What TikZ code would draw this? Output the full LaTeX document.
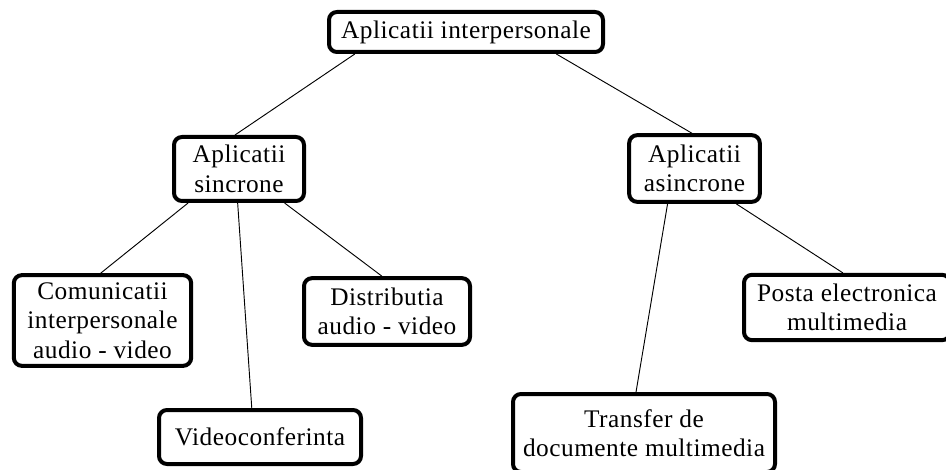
\documentclass[tikz,border=0pt]{standalone}
\usepackage{fontspec}
\setmainfont[LetterSpace=2]{Liberation Serif}
\usetikzlibrary{calc}
\begin{document}
\begin{tikzpicture}[x=0.75pt,y=-0.75pt,
  box/.style={draw=black,line width=3pt,rounded corners=6pt,fill=white,
    align=center,inner sep=0pt,
    font=\fontsize{19pt}{22pt}\selectfont},
  link/.style={draw=black,line width=0.7pt}]
\clip (0,0) rectangle (946,470);
\fill[white] (0,0) rectangle (946,470);
\node[box,minimum width=205.5pt,minimum height=30pt] (root) at (466,32) {Aplicatii interpersonale};
\node[box,minimum width=97.5pt,minimum height=48pt] (sinc) at (239,169) {Aplicatii\\sincrone};
\node[box,minimum width=98pt,minimum height=50pt] (asinc) at (694.5,168.5) {Aplicatii\\asincrone};
\node[box,minimum width=133pt,minimum height=68pt] (com) at (102.5,320.5) {Comunicatii\\interpersonale\\audio - video};
\node[box,minimum width=124.5pt,minimum height=50pt] (dist) at (387,311.5) {Distributia\\audio - video};
\node[box,minimum width=151.5pt,minimum height=40.5pt] (video) at (260,437) {Videoconferinta};
\node[box,minimum width=154.5pt,minimum height=49pt] (posta) at (847,307.5) {Posta electronica\\multimedia};
\node[box,minimum width=196.5pt,minimum height=58.5pt] (transfer) at (644,433) {Transfer de\\documente multimedia};
\draw[link] ($(root.south west)!0.10!(root.south east)$) -- ($(sinc.north west)!0.47!(sinc.north east)$);
\draw[link] ($(root.south west)!0.825!(root.south east)$) -- ($(asinc.north west)!0.48!(asinc.north east)$);
\draw[link] ($(sinc.south west)!0.12!(sinc.south east)$) -- ($(com.north west)!0.49!(com.north east)$);
\draw[link] ($(sinc.south west)!0.49!(sinc.south east)$) -- ($(video.north west)!0.46!(video.north east)$);
\draw[link] ($(sinc.south west)!0.84!(sinc.south east)$) -- ($(dist.north west)!0.47!(dist.north east)$);
\draw[link] ($(asinc.south west)!0.30!(asinc.south east)$) -- ($(transfer.north west)!0.47!(transfer.north east)$);
\draw[link] ($(asinc.south west)!0.81!(asinc.south east)$) -- ($(posta.north west)!0.48!(posta.north east)$);
\end{tikzpicture}
\end{document}
